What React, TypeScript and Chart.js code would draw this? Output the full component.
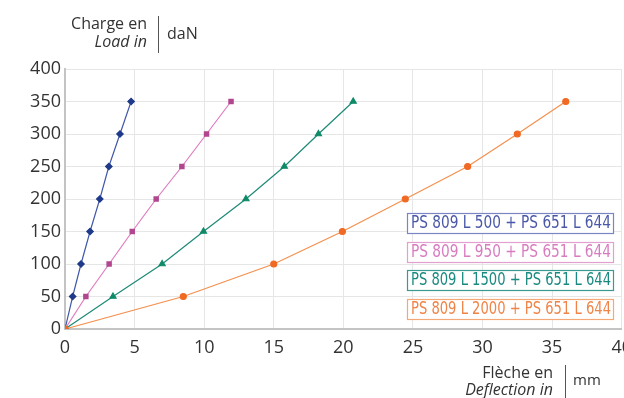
import React, { useEffect, useRef } from "react";
import { Chart, registerables } from "chart.js";

Chart.register(...registerables);

const seriesNames = [
  "PS 809 L 500 + PS 651 L 644",
  "PS 809 L 950 + PS 651 L 644",
  "PS 809 L 1500 + PS 651 L 644",
  "PS 809 L 2000 + PS 651 L 644",
];
const loads = [0, 50, 100, 150, 200, 250, 300, 350];
const deflectionL500 = [0, 0.55, 1.15, 1.8, 2.5, 3.15, 3.95, 4.75];
const deflectionL950 = [0, 1.5, 3.17, 4.83, 6.55, 8.4, 10.17, 11.93];
const deflectionL1500 = [0, 3.45, 6.98, 9.95, 13.0, 15.76, 18.21, 20.71];
const deflectionL2000 = [0, 8.5, 15.0, 19.93, 24.45, 28.93, 32.5, 35.98];
const lineColors = ["#4258a8", "#e07cc0", "#1e8a78", "#f5904e"];
const markerColors = ["#1f3a8a", "#b2468e", "#0f8a68", "#f06a24"];
const legendBorders = ["#7a86c4", "#e2a0d0", "#3a9a90", "#f4a878"];
const legendText = ["#4a58a8", "#d87cc0", "#1a8a80", "#f08448"];
const markerStyles = ["rectRot", "rect", "triangle", "circle"];
const markerRadius = [3.2, 3, 3.5, 3];

const allDeflections = [deflectionL500, deflectionL950, deflectionL1500, deflectionL2000];

const decorPlugin = {
  id: "decor",
  afterDraw(chart: any) {
    const ctx = chart.ctx;
    ctx.save();
    // Legend boxes
    ctx.font = '17px "Liberation Sans Narrow", "DejaVu Sans Condensed", sans-serif';
    const boxLeft = 407;
    const boxRight = 613;
    const tops = [213, 242, 270, 299];
    const boxH = 20;
    seriesNames.forEach((name, i) => {
      ctx.fillStyle = "#ffffff";
      ctx.fillRect(boxLeft, tops[i], boxRight - boxLeft, boxH);
      ctx.strokeStyle = legendBorders[i];
      ctx.lineWidth = 1.2;
      ctx.strokeRect(boxLeft + 0.5, tops[i] + 0.5, boxRight - boxLeft, boxH);
      ctx.fillStyle = legendText[i];
      ctx.textBaseline = "middle";
      ctx.textAlign = "center";
      ctx.fillText(name, (boxLeft + boxRight) / 2 + 1, tops[i] + boxH / 2 + 1, boxRight - boxLeft - 6);
    });

    // Axis titles
    ctx.fillStyle = "#333333";
    ctx.textBaseline = "middle";
    ctx.font = '16px "Open Sans", sans-serif';
    ctx.textAlign = "right";
    ctx.fillText("Charge en", 147, 24);
    ctx.font = 'italic 16px "Open Sans", sans-serif';
    ctx.fillText("Load in", 147, 42);
    ctx.strokeStyle = "#555";
    ctx.lineWidth = 1;
    ctx.beginPath();
    ctx.moveTo(158.5, 16);
    ctx.lineTo(158.5, 53);
    ctx.stroke();
    ctx.font = '16px "Open Sans", sans-serif';
    ctx.textAlign = "left";
    ctx.fillText("daN", 167, 34);

    ctx.textAlign = "right";
    ctx.fillText("Flèche en", 553, 373);
    ctx.font = 'italic 16px "Open Sans", sans-serif';
    ctx.fillText("Deflection in", 553, 390);
    ctx.beginPath();
    ctx.moveTo(565.5, 365);
    ctx.lineTo(565.5, 398);
    ctx.stroke();
    ctx.font = '15px "Open Sans", sans-serif';
    ctx.textAlign = "left";
    ctx.fillText("mm", 573, 381);
    ctx.restore();
  },
};

export default function App() {
  const ref = useRef<HTMLCanvasElement>(null);
  useEffect(() => {
    document.body.style.margin = "0";
    document.body.style.overflow = "hidden";
    const datasets = allDeflections.map((defl, i) => ({
      label: seriesNames[i],
      data: defl.map((x, j) => ({ x, y: loads[j] })),
      borderColor: lineColors[i],
      backgroundColor: markerColors[i],
      pointBackgroundColor: markerColors[i],
      pointBorderColor: markerColors[i],
      pointStyle: markerStyles[i],
      pointRadius: markerRadius[i],
      borderWidth: 1.2,
      showLine: true,
      tension: 0,
      order: 3 - i,
    }));
    const chart = new Chart(ref.current!, {
      type: "scatter",
      data: { datasets: datasets as any },
      options: {
        animation: false,
        responsive: false,
        maintainAspectRatio: false,
        layout: { padding: { top: 69, left: 0, right: 0, bottom: 0 } },
        plugins: { legend: { display: false }, tooltip: { enabled: false } },
        scales: {
          x: {
            type: "linear",
            min: 0,
            max: 40,
            ticks: {
              stepSize: 5,
              padding: 8,
              color: "#333",
              font: { family: "Open Sans", size: 18 },
            },
            grid: { color: "#e6e6e6", drawTicks: false, lineWidth: 1 },
            border: { color: "#c4c4c4", width: 2 },
            afterFit: (s: any) => {
              s.height = 69;
            },
          },
          y: {
            type: "linear",
            min: 0,
            max: 400,
            ticks: {
              stepSize: 50,
              padding: 4,
              color: "#333",
              font: { family: "Open Sans", size: 18 },
            },
            grid: { color: "#e6e6e6", drawTicks: false, lineWidth: 1 },
            border: { color: "#c4c4c4", width: 2 },
            afterFit: (s: any) => {
              s.width = 65;
            },
          },
        },
      },
      plugins: [decorPlugin],
    });
    return () => chart.destroy();
  }, []);
  return (
    <div style={{ width: 624, height: 398, overflow: "hidden", position: "relative", background: "#fff" }}>
      <canvas ref={ref} width={640} height={398} style={{ position: "absolute", left: 0, top: 0 }} />
    </div>
  );
}
